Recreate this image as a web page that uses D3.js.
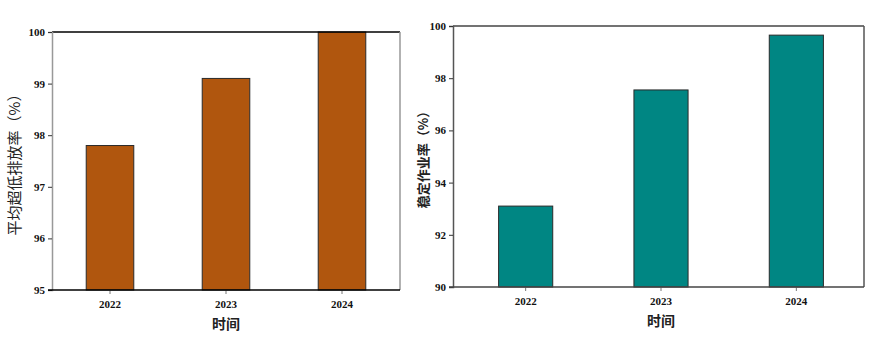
<!DOCTYPE html>
<html>
<head>
<meta charset="utf-8">
<script src="https://cdn.jsdelivr.net/npm/d3@7"></script>
<style>
  body { margin: 0; background: #fff; }
  svg text { font-family: "Liberation Serif", "Noto Serif", serif; }
  .cjk { font-family: "Noto Sans CJK SC", sans-serif; }
</style>
</head>
<body>
<svg id="chart" width="879" height="342"></svg>
<script>
// data
const years = ['2022', '2023', '2024'];
const emissionRate = [97.8, 99.1, 100];   // 平均超低排放率
const stableRate = [93.1, 97.55, 99.65];   // 稳定作业率
const leftTicks = [95, 96, 97, 98, 99, 100];
const rightTicks = [90, 92, 94, 96, 98, 100];

const svg = d3.select('#chart');

function drawPanel(opts) {
  const { x0, x1, y0, y1, values, domain, ticks, color, yLabel, yLabelX, yLabelSize, yLabelWeight,
    xLabelY, sideStroke, topStroke } = opts;

  const g = svg.append('g');

  // band range may be nudged a bit from the frame to line up with the reference
  const x = d3.scaleBand()
    .domain(years)
    .range(opts.bandRange || [x0, x1])
    .paddingInner(opts.pad)
    .paddingOuter(opts.pad / 2);

  const y = d3.scaleLinear()
    .domain(domain)
    .range([y1, y0]);

  // bars
  g.selectAll('rect.bar')
    .data(values)
    .enter()
    .append('rect')
    .attr('class', 'bar')
    .attr('x', (d, i) => x(years[i]))
    .attr('y', d => y(d))
    .attr('width', x.bandwidth())
    .attr('height', d => y1 - y(d))
    .attr('fill', color)
    .attr('stroke', '#2a2a2a')
    .attr('stroke-width', 1);

  // frame: top / right
  g.append('line').attr('x1', x0).attr('x2', x1).attr('y1', y0).attr('y2', y0)
    .attr('stroke', topStroke).attr('stroke-width', 1.5);
  g.append('line').attr('x1', x1).attr('x2', x1).attr('y1', y0).attr('y2', y1)
    .attr('stroke', sideStroke).attr('stroke-width', 1.5);

  // y axis
  const yAxis = g.append('g')
    .attr('transform', `translate(${x0},0)`)
    .call(d3.axisLeft(y).tickValues(ticks).tickFormat(d3.format('d')).tickSize(4).tickPadding(3));
  yAxis.select('.domain').attr('stroke', sideStroke).attr('stroke-width', 1.5);
  yAxis.selectAll('.tick line').attr('stroke', '#333');
  yAxis.selectAll('text')
    .attr('font-size', 11).attr('font-weight', 'bold')
    .attr('font-family', '"Liberation Serif", serif').attr('fill', '#111');

  // x axis (domain drawn separately so it spans the whole frame)
  const xAxis = g.append('g')
    .attr('transform', `translate(0,${y1})`)
    .call(d3.axisBottom(x).tickSize(4).tickPadding(6).tickSizeOuter(0));
  xAxis.select('.domain').remove();
  xAxis.selectAll('.tick line').attr('stroke', '#777');
  xAxis.selectAll('text')
    .attr('font-size', 11).attr('font-weight', 'bold')
    .attr('font-family', '"Liberation Serif", serif').attr('fill', '#111');
  g.append('line').attr('x1', x0 - 4).attr('x2', x1).attr('y1', y1).attr('y2', y1)
    .attr('stroke', topStroke).attr('stroke-width', 1.5);

  // axis titles
  g.append('text')
    .attr('class', 'cjk')
    .attr('transform', `translate(${yLabelX},${(y0 + y1) / 2}) rotate(-90)`)
    .attr('text-anchor', 'middle')
    .attr('dominant-baseline', 'middle')
    .attr('font-size', yLabelSize)
    .attr('font-weight', yLabelWeight)
    .attr('fill', '#222')
    .text(yLabel);

  g.append('text')
    .attr('class', 'cjk')
    .attr('x', x(years[1]) + x.bandwidth() / 2)
    .attr('y', xLabelY)
    .attr('text-anchor', 'middle')
    .attr('dominant-baseline', 'middle')
    .attr('font-size', 14)
    .attr('font-weight', 'bold')
    .attr('fill', '#222')
    .text('时间');
}

drawPanel({
  x0: 52, x1: 400, y0: 32, y1: 290,
  values: emissionRate, domain: [95, 100], ticks: leftTicks,
  color: '#b0560e', pad: 0.59,
  yLabel: '平均超低排放率（%）', yLabelX: 16, yLabelSize: 15, yLabelWeight: 'normal',
  xLabelY: 325, sideStroke: '#999', topStroke: '#000'
});

drawPanel({
  x0: 453, x1: 864, y0: 26, y1: 287, bandRange: [458, 864],
  values: stableRate, domain: [90, 100], ticks: rightTicks,
  color: '#008683', pad: 0.6,
  yLabel: '稳定作业率（%）', yLabelX: 424, yLabelSize: 13, yLabelWeight: 'bold',
  xLabelY: 322, sideStroke: '#555', topStroke: '#444'
});
</script>
</body>
</html>
